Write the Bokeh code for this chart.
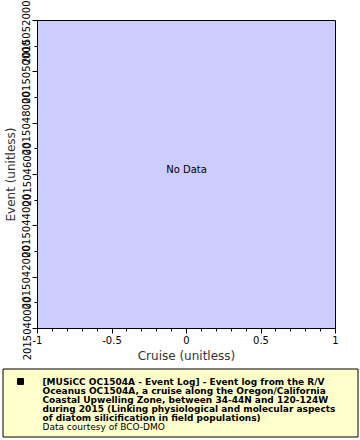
from bokeh.plotting import figure
from bokeh.layouts import column
from bokeh.models import Range1d, SingleIntervalTicker, BasicTickFormatter, FixedTicker
from bokeh.core.properties import value
from bokeh.embed import file_html
from bokeh.resources import INLINE

# ---- data ----
x_start, x_end = -1.0, 1.0
y_start, y_end = 2015040000, 2015052000
x_ticks = [-1, -0.5, 0, 0.5, 1]
x_tick_labels = ["-1", "-0.5", "0", "0.5", "1"]
y_tick_interval = 2000
x_label = "Cruise (unitless)"
y_label = "Event (unitless)"
no_data_text = "No Data"
legend_lines = [
    "[MUSiCC OC1504A - Event Log] - Event log from the R/V",
    "Oceanus OC1504A, a cruise along the Oregon/California",
    "Coastal Upwelling Zone, between 34-44N and 120-124W",
    "during 2015 (Linking physiological and molecular aspects",
    "of diatom silicification in field populations)",
]
credit_line = "Data courtesy of BCO-DMO"

FONT = "DejaVu Sans"

p = figure(width=360, height=366, output_backend="svg", toolbar_location=None,
           x_range=Range1d(x_start, x_end), y_range=Range1d(y_start, y_end),
           min_border_left=36, min_border_right=25, min_border_top=20, min_border_bottom=38)
p.background_fill_color = "#ccccff"
p.border_fill_color = "white"
p.outline_line_color = "black"
p.outline_line_width = 1
p.grid.visible = False

p.xaxis.ticker = FixedTicker(ticks=x_ticks, minor_ticks=[round(-1 + 0.1 * i, 2) for i in range(21)])
p.xaxis.major_label_overrides = {t: s for t, s in zip(x_ticks, x_tick_labels)}
p.yaxis.ticker = SingleIntervalTicker(interval=y_tick_interval, num_minor_ticks=2)
p.yaxis.formatter = BasicTickFormatter(use_scientific=False)
p.yaxis.major_label_orientation = "vertical"

for ax in (p.xaxis, p.yaxis):
    ax.axis_label_text_font = FONT
    ax.axis_label_text_font_style = "normal"
    ax.axis_label_text_font_size = "12px"
    ax.axis_label_text_color = "#333333"
    ax.major_label_text_font = FONT
    ax.major_label_text_font_size = "10px"
    ax.major_label_text_color = "black"
    ax.major_tick_out = 5
    ax.major_tick_in = 0
    ax.minor_tick_out = 3
    ax.minor_tick_in = 0
    ax.axis_line_color = "black"
    ax.major_tick_line_color = "black"
    ax.minor_tick_line_color = "black"
    ax.major_label_standoff = 2
    ax.axis_label_standoff = 2

p.xaxis.axis_label = x_label
p.yaxis.axis_label = y_label

p.text(x=[(x_start + x_end) / 2], y=[(y_start + y_end) / 2 + 0.015 * (y_end - y_start)],
       text=[no_data_text], text_font=value(FONT), text_font_size="10px",
       text_align="center", text_baseline="middle", text_color="black")

# ---- legend panel ----
L = figure(width=360, height=74, output_backend="svg", toolbar_location=None,
           x_range=Range1d(0, 360), y_range=Range1d(74, 0),
           min_border=0, min_border_left=0, min_border_right=0, min_border_top=0, min_border_bottom=0)
L.axis.visible = False
L.grid.visible = False
L.outline_line_color = None
L.background_fill_color = "white"
L.border_fill_color = "white"

L.quad(left=[2.5], right=[357.5], top=[2.5], bottom=[70.5],
       fill_color="#ffffcc", line_color="black", line_width=1)
L.scatter(x=[20], y=[15], marker="square", size=6, fill_color="black", line_color="black")

ys = [15 + 9 * i for i in range(len(legend_lines))]
L.text(x=[42] * len(legend_lines), y=ys, text=legend_lines, text_font=value(FONT),
       text_font_size="9px", text_font_style="bold", text_baseline="middle", text_color="black")
L.text(x=[42], y=[15 + 9 * len(legend_lines)], text=[credit_line], text_font=value(FONT),
       text_font_size="9px", text_baseline="middle", text_color="black")

layout = column(p, column(L, spacing=0), spacing=0)
open("out.html", "w").write(file_html(layout, INLINE))
